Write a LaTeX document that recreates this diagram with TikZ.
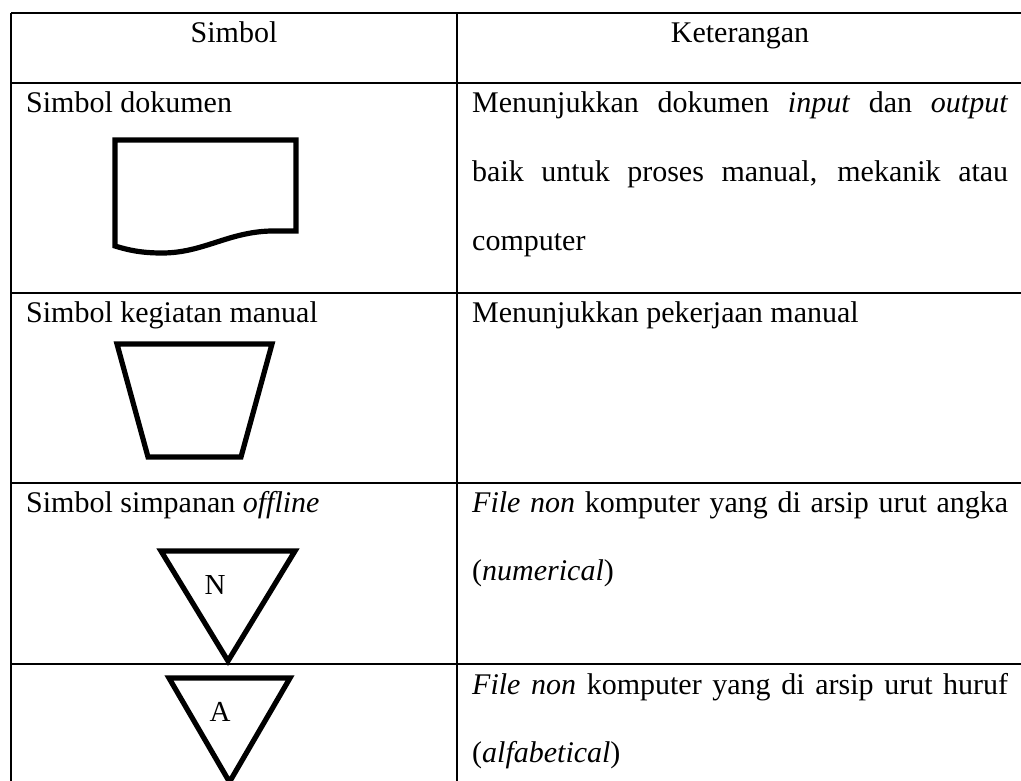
\documentclass[tikz,border=0pt]{standalone}
\usepackage{fontspec}
\setmainfont{Liberation Serif}
\begin{document}
\begin{tikzpicture}[x=1pt,y=-1pt,
  rule/.style={line width=1.6pt},
  sym/.style={line width=5.2pt, line join=miter},
  txt/.style={inner sep=0pt, anchor=base west, font=\fontsize{30}{36}\selectfont},
  hdr/.style={inner sep=0pt, anchor=base, font=\fontsize{30}{36}\selectfont},
  lbl/.style={inner sep=0pt, font=\fontsize{29}{34}\selectfont}]
\useasboundingbox (0,0) rectangle (1021,780);
\clip (0,0) rectangle (1021,780);

% table rules
\foreach \y in {13,83,293,483,664}
  \draw[rule] (11,\y) -- (1040,\y);
\draw[line width=1.3pt] (11,13) -- (11,800);
\draw[line width=1.3pt] (457,13) -- (457,800);

% header
\node[hdr] (hsym) at (234,42) {Simbol};
\node[hdr] (hket) at (740,42) {Keterangan};

% row 1: document
\node[txt] (n1) at (26,112) {Simbol dokumen};
\draw[sym] (115,140) -- (296,140) -- (296,231) -- (271,231)
  .. controls (228,232) and (203,253) .. (162,253)
  .. controls (141,253) and (128,250) .. (115,246) -- cycle;
\node[txt] (d1a) at (472,112) {\makebox[536pt][s]{Menunjukkan dokumen \textit{input} dan \textit{output}}};
\node[txt] (d1b) at (472,181) {\makebox[536pt][s]{baik untuk proses manual, mekanik atau}};
\node[txt] (d1c) at (472,250) {computer};

% row 2: manual operation
\node[txt] (n2) at (26,322) {Simbol kegiatan manual};
\draw[sym] (117,344) -- (272,344) -- (241,457) -- (148,457) -- cycle;
\node[txt] (d2a) at (472,322) {Menunjukkan pekerjaan manual};

% row 3: offline storage, numerical
\node[txt] (n3) at (26,512) {Simbol simpanan \textit{offline}};
\draw[sym] (161,551) -- (295,551) -- (228,661) -- cycle;
\node[lbl] (tn) at (215,585) {N};
\node[txt] (d3a) at (472,512) {\makebox[536pt][s]{\textit{File non} komputer yang di arsip urut angka}};
\node[txt] (d3b) at (472,580) {(\textit{numerical})};

% row 4: offline storage, alphabetical
\draw[sym] (169,678) -- (290,678) -- (229.5,782) -- cycle;
\node[lbl] (ta) at (220,712) {A};
\node[txt] (d4a) at (472,694) {\makebox[536pt][s]{\textit{File non} komputer yang di arsip urut huruf}};
\node[txt] (d4b) at (472,762) {(\textit{alfabetical})};
\end{tikzpicture}
\end{document}
